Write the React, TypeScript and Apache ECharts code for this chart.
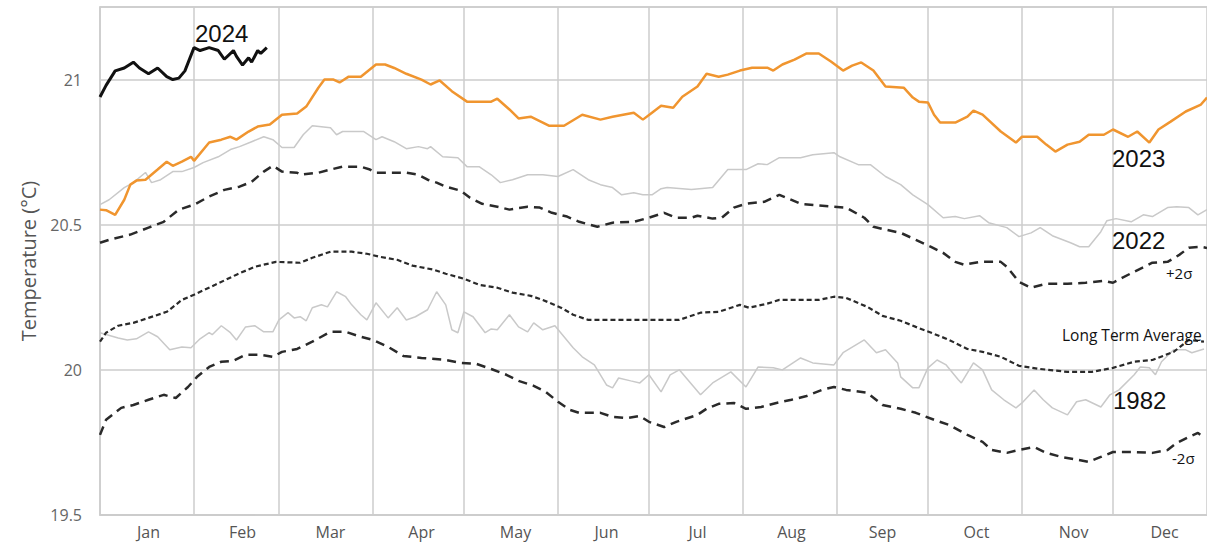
import React, { useEffect, useRef } from "react";
import * as echarts from "echarts";

const monthNames = ["Jan", "Feb", "Mar", "Apr", "May", "Jun", "Jul", "Aug", "Sep", "Oct", "Nov", "Dec"];
const monthStarts = [0, 31, 59, 90, 120, 151, 181, 212, 243, 273, 304, 334];
const labelDays = [16, 47, 76, 106, 137, 167, 197, 228, 258, 289, 321, 351];
const days = Array.from({ length: 366 }, (_, i) => String(i));
const yTicks = { min: 19.5, max: 21.25, interval: 0.5 };

const y2024 = [[0,20.94],[2,20.98],[5,21.03],[8,21.04],[11,21.06],[13,21.04],[16,21.02],[19,21.04],[22,21.01],[24,21.0],[26,21.005],[28,21.03],[31,21.11],[33,21.1],[36,21.11],[39,21.1],[41,21.07],[44,21.1],[45,21.08],[47,21.05],[49,21.075],[50,21.06],[52,21.1],[53,21.09],[55,21.11]];

const y2023 = [[0,20.552],[2,20.55],[5,20.534],[8,20.586],[10,20.638],[12,20.652],[15,20.655],[19,20.69],[22,20.717],[24,20.703],[27,20.717],[30,20.734],[31,20.72],[36,20.783],[40,20.793],[43,20.803],[45,20.793],[49,20.821],[52,20.838],[56,20.845],[60,20.879],[65,20.883],[68,20.907],[72,20.972],[74,21.0],[77,21.0],[79,20.99],[82,21.01],[86,21.01],[91,21.052],[94,21.052],[97,21.04],[101,21.02],[106,21.0],[109,20.983],[112,20.997],[116,20.96],[121,20.924],[129,20.924],[131,20.934],[135,20.897],[138,20.866],[142,20.872],[146,20.852],[148,20.841],[153,20.841],[159,20.879],[165,20.862],[169,20.872],[176,20.886],[179,20.862],[182,20.886],[185,20.91],[189,20.903],[192,20.941],[197,20.976],[200,21.02],[204,21.01],[207,21.017],[211,21.031],[215,21.041],[220,21.041],[222,21.031],[225,21.052],[229,21.069],[233,21.09],[237,21.09],[241,21.062],[245,21.031],[248,21.048],[251,21.059],[255,21.031],[259,20.976],[265,20.972],[268,20.938],[270,20.924],[273,20.921],[275,20.879],[277,20.852],[282,20.852],[286,20.872],[288,20.893],[291,20.879],[297,20.821],[302,20.783],[304,20.803],[309,20.803],[312,20.776],[315,20.752],[319,20.776],[323,20.786],[326,20.81],[331,20.81],[334,20.828],[339,20.803],[342,20.821],[346,20.783],[349,20.828],[353,20.855],[358,20.89],[363,20.914],[365,20.938]];

const y2022 = [[0,20.569],[3,20.586],[8,20.628],[11,20.645],[15,20.68],[17,20.645],[20,20.655],[24,20.683],[27,20.683],[31,20.697],[34,20.714],[39,20.734],[43,20.759],[46,20.769],[50,20.786],[54,20.803],[57,20.793],[60,20.766],[64,20.766],[67,20.81],[70,20.841],[76,20.834],[78,20.81],[80,20.821],[87,20.821],[91,20.793],[93,20.803],[97,20.786],[101,20.762],[105,20.769],[108,20.762],[109,20.769],[113,20.734],[118,20.731],[121,20.7],[125,20.7],[129,20.672],[132,20.645],[136,20.655],[141,20.672],[146,20.672],[151,20.666],[156,20.69],[161,20.655],[165,20.638],[169,20.628],[172,20.603],[176,20.61],[179,20.603],[182,20.603],[185,20.624],[187,20.628],[195,20.621],[202,20.628],[207,20.69],[213,20.69],[217,20.71],[220,20.707],[224,20.731],[231,20.731],[235,20.741],[242,20.748],[244,20.734],[250,20.707],[254,20.707],[259,20.666],[264,20.638],[268,20.603],[273,20.569],[278,20.524],[282,20.528],[285,20.521],[290,20.531],[293,20.507],[299,20.49],[303,20.459],[307,20.472],[310,20.49],[314,20.462],[320,20.438],[323,20.424],[326,20.424],[330,20.476],[332,20.514],[335,20.521],[340,20.51],[344,20.534],[347,20.528],[352,20.559],[355,20.562],[359,20.559],[362,20.534],[365,20.552]];

const plus2 = [[0,20.438],[3,20.448],[10,20.466],[16,20.49],[21,20.51],[26,20.552],[31,20.569],[36,20.597],[41,20.62],[46,20.631],[50,20.648],[54,20.683],[57,20.703],[60,20.683],[65,20.679],[66,20.672],[72,20.679],[76,20.69],[80,20.7],[86,20.7],[89,20.69],[91,20.679],[101,20.679],[105,20.672],[108,20.655],[111,20.645],[114,20.631],[119,20.617],[122,20.593],[126,20.572],[131,20.562],[135,20.552],[141,20.562],[145,20.559],[149,20.541],[154,20.528],[158,20.51],[164,20.493],[169,20.507],[176,20.51],[181,20.524],[186,20.541],[190,20.524],[195,20.524],[197,20.531],[202,20.521],[205,20.524],[209,20.559],[213,20.572],[219,20.579],[224,20.603],[227,20.59],[231,20.572],[242,20.562],[246,20.559],[252,20.524],[255,20.493],[259,20.483],[264,20.472],[269,20.448],[274,20.424],[278,20.403],[282,20.372],[285,20.362],[290,20.372],[297,20.372],[299,20.355],[303,20.303],[307,20.283],[312,20.297],[319,20.297],[325,20.3],[331,20.307],[334,20.3],[337,20.317],[341,20.338],[347,20.369],[352,20.372],[356,20.397],[359,20.421],[363,20.424],[365,20.42]];

const longTermAvg = [[0,20.097],[2,20.128],[6,20.152],[11,20.162],[16,20.179],[22,20.2],[25,20.224],[27,20.241],[31,20.259],[38,20.293],[45,20.328],[51,20.355],[58,20.372],[66,20.369],[70,20.386],[76,20.407],[83,20.407],[88,20.4],[92,20.39],[98,20.379],[103,20.359],[110,20.345],[114,20.331],[120,20.314],[125,20.293],[131,20.283],[136,20.266],[142,20.255],[146,20.241],[152,20.214],[156,20.19],[161,20.172],[172,20.172],[191,20.172],[198,20.197],[204,20.2],[211,20.224],[214,20.214],[220,20.228],[224,20.241],[237,20.241],[242,20.252],[246,20.248],[253,20.217],[258,20.186],[264,20.169],[269,20.148],[275,20.124],[280,20.103],[286,20.072],[291,20.062],[297,20.045],[303,20.014],[310,20.003],[319,19.993],[327,19.993],[334,20.007],[341,20.028],[347,20.034],[354,20.062],[359,20.103],[364,20.097]];

const y1982 = [[0,20.128],[6,20.11],[9,20.103],[12,20.107],[16,20.131],[19,20.114],[23,20.069],[27,20.079],[30,20.076],[33,20.107],[36,20.128],[37,20.121],[40,20.152],[43,20.128],[45,20.103],[48,20.148],[51,20.152],[54,20.131],[57,20.131],[59,20.172],[62,20.197],[64,20.179],[66,20.183],[68,20.169],[70,20.214],[73,20.224],[75,20.217],[78,20.269],[81,20.252],[83,20.224],[86,20.19],[88,20.172],[91,20.231],[95,20.179],[98,20.214],[101,20.172],[104,20.183],[108,20.207],[111,20.269],[114,20.224],[116,20.138],[118,20.128],[120,20.2],[123,20.183],[127,20.128],[129,20.141],[131,20.138],[135,20.19],[138,20.148],[141,20.131],[143,20.162],[146,20.138],[150,20.152],[153,20.114],[156,20.076],[159,20.045],[163,20.017],[167,19.948],[169,19.938],[171,19.972],[175,19.962],[178,19.955],[181,19.983],[185,19.924],[188,19.983],[191,20.0],[198,19.914],[202,19.955],[208,19.993],[213,19.941],[217,20.01],[222,20.007],[225,20.0],[231,20.041],[235,20.024],[242,20.017],[245,20.059],[252,20.103],[256,20.059],[259,20.069],[263,20.024],[264,19.976],[268,19.938],[270,19.938],[273,20.007],[276,20.034],[279,20.017],[283,19.966],[284,19.955],[288,20.024],[291,20.0],[294,19.931],[298,19.897],[302,19.869],[304,19.886],[308,19.931],[311,19.897],[314,19.869],[319,19.845],[322,19.89],[325,19.897],[330,19.872],[333,19.914],[336,19.931],[341,19.983],[343,20.01],[346,20.007],[348,19.983],[350,20.028],[354,20.069],[358,20.069],[360,20.059],[364,20.072]];

const minus2 = [[0,19.776],[2,19.828],[7,19.869],[11,19.879],[16,19.897],[21,19.914],[25,19.903],[29,19.941],[32,19.976],[36,20.01],[40,20.028],[44,20.031],[48,20.052],[53,20.052],[57,20.045],[60,20.062],[65,20.072],[70,20.097],[76,20.131],[81,20.131],[86,20.114],[90,20.103],[95,20.079],[100,20.048],[106,20.041],[114,20.034],[119,20.024],[124,20.021],[129,20.003],[134,19.983],[138,19.962],[143,19.945],[147,19.924],[151,19.89],[155,19.862],[158,19.852],[165,19.852],[169,19.838],[174,19.834],[178,19.841],[181,19.821],[186,19.803],[190,19.821],[197,19.845],[200,19.866],[204,19.883],[209,19.886],[213,19.866],[218,19.872],[223,19.886],[228,19.897],[233,19.91],[238,19.931],[242,19.941],[246,19.931],[253,19.921],[258,19.879],[264,19.866],[269,19.852],[275,19.828],[280,19.81],[286,19.776],[291,19.752],[294,19.724],[299,19.714],[303,19.724],[308,19.734],[312,19.714],[317,19.7],[321,19.693],[326,19.683],[330,19.7],[334,19.717],[341,19.717],[347,19.714],[352,19.724],[355,19.748],[359,19.769],[362,19.783],[364,19.766]];

const annotations = [
  { text: "2024", x: 195, y: 33, size: 24, font: "Liberation Sans" },
  { text: "2023", x: 1112, y: 158, size: 24, font: "Liberation Sans" },
  { text: "2022", x: 1112, y: 240, size: 24, font: "Liberation Sans" },
  { text: "+2σ", x: 1166, y: 273, size: 15, font: "Open Sans" },
  { text: "Long Term Average", x: 1062, y: 335, size: 15.5, font: "Open Sans" },
  { text: "1982", x: 1113, y: 400, size: 24, font: "Liberation Sans" },
  { text: "-2σ", x: 1172, y: 458, size: 15, font: "Open Sans" },
];

export default function App() {
  const ref = useRef<HTMLDivElement>(null);
  useEffect(() => {
    if (!ref.current) return;
    const chart = echarts.init(ref.current, null, { renderer: "svg" });
    const grayLine = (name: string, data: number[][]) => ({
      name, type: "line", data, showSymbol: false, symbol: "none",
      lineStyle: { color: "#c9c9c9", width: 1.5 }, z: 2,
    });
    const dashLine = (name: string, data: number[][], dash: number[], w: number) => ({
      name, type: "line", data, showSymbol: false, symbol: "none",
      lineStyle: { color: "#2a2a2a", width: w, type: dash }, z: 3,
    });
    chart.setOption({
      animation: false,
      backgroundColor: "#ffffff",
      grid: { left: 100, right: 0, top: 7, bottom: 29, show: true, borderColor: "#cccccc", borderWidth: 1.5 },
      xAxis: {
        type: "category",
        data: days,
        boundaryGap: false,
        axisLine: { show: true, lineStyle: { color: "#cccccc", width: 1.5 } },
        axisTick: { show: false },
        axisLabel: {
          interval: (i: number) => labelDays.includes(i),
          formatter: (v: string) => {
            const k = labelDays.indexOf(Number(v));
            return k >= 0 ? monthNames[k] : "";
          },
          color: "#555555",
          fontSize: 16,
          fontFamily: "Open Sans",
          margin: 9,
        },
        splitLine: {
          show: true,
          interval: (i: number) => i > 0 && monthStarts.includes(i),
          lineStyle: { color: "#cccccc", width: 1.5 },
        },
      },
      yAxis: {
        type: "value",
        min: yTicks.min,
        max: yTicks.max,
        interval: yTicks.interval,
        name: "Temperature (°C)",
        nameLocation: "middle",
        nameGap: 62,
        nameTextStyle: { color: "#555555", fontSize: 20, fontFamily: "Open Sans" },
        axisLine: { show: true, lineStyle: { color: "#cccccc", width: 1.5 } },
        axisTick: { show: false },
        axisLabel: {
          formatter: (v: number) => (v > 21.1 ? "" : String(v)),
          color: "#666666",
          fontSize: 16,
          fontFamily: "Open Sans",
          margin: 18,
        },
        splitLine: { show: true, lineStyle: { color: "#cccccc", width: 1.5 } },
      },
      series: [
        grayLine("1982", y1982),
        grayLine("2022", y2022),
        dashLine("Long Term Average", longTermAvg, [5, 3], 2.2),
        dashLine("-2σ", minus2, [9, 6], 2.5),
        dashLine("+2σ", plus2, [9, 6], 2.5),
        {
          name: "2023", type: "line", data: y2023, showSymbol: false, symbol: "none",
          lineStyle: { color: "#F0952F", width: 2.5 }, z: 4,
        },
        {
          name: "2024", type: "line", data: y2024, showSymbol: false, symbol: "none",
          lineStyle: { color: "#111111", width: 3 }, z: 5,
        },
      ],
      graphic: annotations.map((a) => ({
        type: "text",
        x: a.x,
        y: a.y,
        z: 10,
        style: {
          text: a.text,
          fill: "#111111",
          fontSize: a.size,
          fontFamily: a.font,
          verticalAlign: "middle",
          align: "left",
        },
      })),
    });
    return () => chart.dispose();
  }, []);
  return (
    <div
      ref={ref}
      style={{ position: "absolute", left: 0, top: 0, width: 1207, height: 544, background: "#fff" }}
    />
  );
}
